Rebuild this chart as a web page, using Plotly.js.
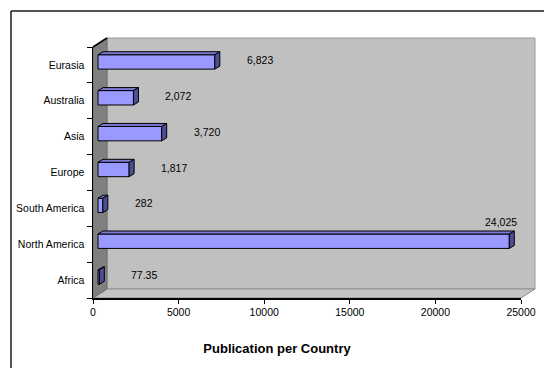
<!DOCTYPE html>
<html>
<head>
<meta charset="utf-8">
<script src="https://cdn.plot.ly/plotly-3.0.1.min.js"></script>
<style>
  html, body { margin: 0; padding: 0; background: #fff; overflow: hidden; }
  #chart { width: 544px; height: 368px; }
</style>
</head>
<body>
<div id="chart"></div>
<script>
// Publications by region
const categories = ['Africa', 'North America', 'South America', 'Europe', 'Asia', 'Australia', 'Eurasia'];
const publications = [77.35, 24025, 282, 1817, 3720, 2072, 6823];
const valueLabels = ['77.35', '24,025', '282', '1,817', '3,720', '2,072', '6,823'];
const xTickValues = [0, 5000, 10000, 15000, 20000, 25000];
const xMax = 25000;

// Figure geometry (pixels)
const FIG_W = 544, FIG_H = 368;
const margin = { l: 93, r: 23, t: 47, b: 70, pad: 0 };
const plotW = FIG_W - margin.l - margin.r;
const plotH = FIG_H - margin.t - margin.b;
const yRange = [-0.5, categories.length - 0.5];

// pixel <-> axis-unit conversions for the pseudo-3D depth offsets
const kx = plotW / xMax;
const ky = plotH / (yRange[1] - yRange[0]);
const ux = px => px / kx;
const uy = px => px / ky;
const paperX = px => (px - margin.l) / plotW;
const paperY = py => (FIG_H - margin.b - py) / plotH;
const paperDX = px => px / plotW;
const paperDY = px => px / plotH;

const WALL = { dx: 14, dy: 9 };      // depth of the walls
const BAR_SHIFT = { dx: 5, dy: 3 };  // bar front face behind the axis plane
const BAR_DEPTH = { dx: 5, dy: 3 };  // bar thickness in depth
const BAR_HALF = 7.2;                // half height of a bar face

const FONT = 'Liberation Sans, Arial, sans-serif';
const positions = categories.map((_, i) => i);
const frontY = positions.map(p => p + uy(BAR_SHIFT.dy));
const barStart = ux(BAR_SHIFT.dx);

// Front faces of the bars
const frontTrace = {
  type: 'bar',
  orientation: 'h',
  x: publications,
  y: frontY,
  base: barStart,
  width: uy(2 * BAR_HALF),
  marker: { color: '#9999ff', line: { color: '#000000', width: 1 } },
  hoverinfo: 'skip',
  showlegend: false
};

// Top and end faces, built from the same values
const topX = [], topY = [], sideX = [], sideY = [];
publications.forEach((v, i) => {
  const x0 = barStart, x1 = barStart + v;
  const yT = frontY[i] + uy(BAR_HALF), yB = frontY[i] - uy(BAR_HALF);
  const ddx = ux(BAR_DEPTH.dx), ddy = uy(BAR_DEPTH.dy);
  topX.push(x0, x1, x1 + ddx, x0 + ddx, x0, null);
  topY.push(yT, yT, yT + ddy, yT + ddy, yT, null);
  sideX.push(x1, x1 + ddx, x1 + ddx, x1, x1, null);
  sideY.push(yT, yT + ddy, yB + ddy, yB, yT, null);
});

const topTrace = {
  type: 'scatter', mode: 'lines', x: topX, y: topY,
  fill: 'toself', fillcolor: '#7b7bd4',
  line: { color: '#000000', width: 1 },
  hoverinfo: 'skip', showlegend: false, cliponaxis: false
};
const sideTrace = {
  type: 'scatter', mode: 'lines', x: sideX, y: sideY,
  fill: 'toself', fillcolor: '#4d4d94',
  line: { color: '#000000', width: 1 },
  hoverinfo: 'skip', showlegend: false, cliponaxis: false
};

// Value labels at the end of each bar
const labelFont = { family: FONT, size: 10.5, color: '#000' };
const annotations = publications.map((v, i) => {
  const roomy = v * kx + 40 + 40 < plotW;
  return roomy
    ? { x: v, y: positions[i], xref: 'x', yref: 'y', text: valueLabels[i],
        showarrow: false, xanchor: 'left', yanchor: 'middle', xshift: 35, yshift: 5,
        font: labelFont }
    : { x: v, y: positions[i], xref: 'x', yref: 'y', text: valueLabels[i],
        showarrow: false, xanchor: 'right', yanchor: 'middle', xshift: 15, yshift: 22,
        font: labelFont };
});

// Walls, floor and the outer frame (left and top edges)
const wx = paperDX(WALL.dx), wy = paperDY(WALL.dy);
const shapes = [
  { type: 'rect', xref: 'paper', yref: 'paper', layer: 'below',
    x0: wx, x1: 1 + wx, y0: wy, y1: 1 + wy,
    fillcolor: '#c0c0c0', line: { color: '#9a9a9a', width: 1 } },
  { type: 'path', xref: 'paper', yref: 'paper', layer: 'below',
    path: `M 0 0 L 1 0 L ${1 + wx} ${wy} L ${wx} ${wy} Z`,
    fillcolor: '#c4c4c4', line: { color: '#8c8c8c', width: 1 } },
  { type: 'path', xref: 'paper', yref: 'paper', layer: 'below',
    path: `M 0 0 L ${wx} ${wy} L ${wx} ${1 + wy} L 0 1 Z`,
    fillcolor: '#808080', line: { color: '#6e6e6e', width: 1 } },
  { type: 'line', xref: 'paper', yref: 'paper', layer: 'above',
    x0: 0, y0: 1, x1: wx, y1: 1 + wy, line: { color: '#000', width: 1.5 } },
  { type: 'line', xref: 'paper', yref: 'paper', layer: 'above',
    x0: paperX(11), x1: paperX(11), y0: paperY(FIG_H + 5), y1: paperY(11),
    line: { color: '#1a1a1a', width: 1.5 } },
  { type: 'line', xref: 'paper', yref: 'paper', layer: 'above',
    x0: paperX(11), x1: paperX(FIG_W + 5), y0: paperY(11), y1: paperY(11),
    line: { color: '#1a1a1a', width: 1.5 } }
];

const layout = {
  width: FIG_W, height: FIG_H,
  margin: margin,
  paper_bgcolor: '#ffffff',
  plot_bgcolor: 'rgba(0,0,0,0)',
  showlegend: false,
  bargap: 0,
  font: { family: FONT, size: 10.5, color: '#000' },
  title: {
    text: '<b>Publication per Country</b>',
    font: { family: FONT, size: 13, color: '#000' },
    xref: 'container', yref: 'container',
    x: 277 / FIG_W, xanchor: 'center',
    y: 1 - 348 / FIG_H, yanchor: 'middle'
  },
  xaxis: {
    range: [0, xMax], fixedrange: true,
    tickmode: 'array', tickvals: xTickValues, ticktext: xTickValues.map(String),
    ticks: 'outside', ticklen: 4, tickwidth: 1, tickcolor: '#000',
    showline: true, linecolor: '#000', linewidth: 1.5,
    showgrid: false, zeroline: false,
    tickfont: { family: FONT, size: 10.5, color: '#000' }
  },
  yaxis: {
    range: yRange, fixedrange: true,
    tickmode: 'array', tickvals: positions, ticktext: categories,
    ticks: '', ticklabelstandoff: 5,
    minor: {
      tickmode: 'array',
      tickvals: positions.map(p => p - 0.5).concat([positions.length - 0.5]),
      ticks: 'outside', ticklen: 5, tickwidth: 1, tickcolor: '#000', showgrid: false
    },
    showline: true, linecolor: '#000', linewidth: 1.5,
    showgrid: false, zeroline: false,
    tickfont: { family: FONT, size: 10.5, color: '#000' }
  },
  shapes: shapes,
  annotations: annotations
};

Plotly.newPlot('chart', [frontTrace, topTrace, sideTrace], layout,
  { staticPlot: true, displayModeBar: false });
</script>
</body>
</html>
